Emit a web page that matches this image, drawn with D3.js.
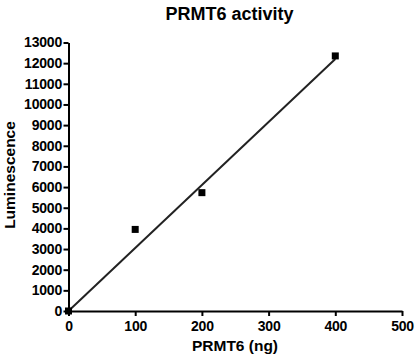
<!DOCTYPE html>
<html><head><meta charset="utf-8">
<script src="https://cdn.jsdelivr.net/npm/d3@7"></script>
<style>body{margin:0;background:#fff}svg{display:block}text{font-family:"Liberation Sans",Arial,sans-serif;fill:#000}</style>
</head><body><svg id="c" width="418" height="361"></svg>
<script>
const doseNg = [0, 100, 200, 400];
const luminescence = [0, 3950, 5730, 12350];
const fitX = [0, 400];
const fitY = [0, 12200];
const xTicks = [0, 100, 200, 300, 400, 500];
const yTicks = d3.range(0, 13001, 1000);

const svg = d3.select("#c");
const x = d3.scaleLinear().domain([0, 500]).range([68.5, 402]);
const y = d3.scaleLinear().domain([0, 13000]).range([311, 42.5]);

const xa = svg.append("g").attr("transform", "translate(0,311)")
  .call(d3.axisBottom(x).tickValues(xTicks).tickFormat(d3.format("d")).tickSize(5).tickPadding(4).tickSizeOuter(0));
const ya = svg.append("g").attr("transform", "translate(68.5,0)")
  .call(d3.axisLeft(y).tickValues(yTicks).tickFormat(d3.format("d")).tickSize(5).tickPadding(1.5).tickSizeOuter(0));
[xa, ya].forEach(g => {
  g.select(".domain").attr("stroke", "#000").attr("stroke-width", 2);
  g.selectAll(".tick line").attr("stroke", "#000").attr("stroke-width", 2);
  g.selectAll(".tick text").style("font-size", "14px").style("font-weight", "bold")
    .style("letter-spacing", "-0.2px").attr("fill", "#000");
});
xa.selectAll(".tick text").attr("dy", "0.75em");

svg.append("path")
  .attr("d", d3.line()(fitX.map((v, i) => [x(v), y(fitY[i])])))
  .attr("stroke", "#222").attr("stroke-width", 2).attr("fill", "none");

svg.selectAll("rect.pt").data(doseNg).join("rect").attr("class", "pt")
  .attr("x", d => x(d) - 3.5).attr("y", (d, i) => y(luminescence[i]) - 3.5)
  .attr("width", 7).attr("height", 7).attr("fill", "#000");

svg.append("text").attr("x", 229.5).attr("y", 19.5).attr("text-anchor", "middle")
  .style("font-size", "18px").style("font-weight", "bold").text("PRMT6 activity");
svg.append("text").attr("x", 235).attr("y", 351).attr("text-anchor", "middle")
  .style("font-size", "15.5px").style("font-weight", "bold").text("PRMT6 (ng)");
svg.append("text").attr("transform", "translate(15,175) rotate(-90)").attr("text-anchor", "middle")
  .style("font-size", "15.5px").style("font-weight", "bold").text("Luminescence");
</script></body></html>
